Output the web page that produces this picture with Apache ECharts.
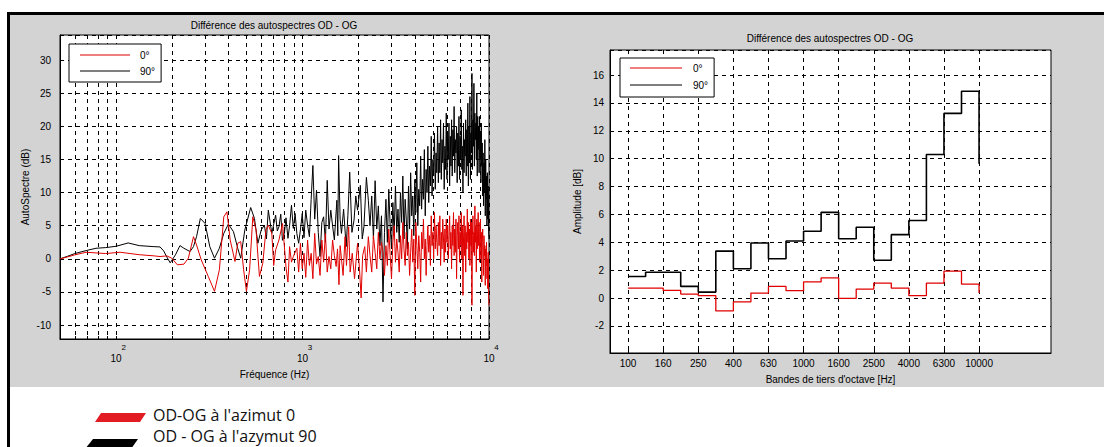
<!DOCTYPE html>
<html><head><meta charset="utf-8">
<script src="https://cdn.jsdelivr.net/npm/echarts@6/dist/echarts.min.js"></script>
<style>html,body{margin:0;padding:0;background:#fff;}#c{width:1104px;height:447px;}</style>
</head><body><div id="c"></div>
<script>
// ---------- Left chart: narrow-band difference spectrum (Hz, dB) ----------
const diff90Low = [[50,0],[55,0.4],[60,0.8],[69,1.25],[78,1.6],[88,1.7],[100,1.9],[116,2.4],[133,2.0],[158,1.85],[172,1.8],[180,1.2],[186,0.4],[195,-0.6],[208,0.6],[220,2.0],[231,1.6],[249,1.1],[260,1.85],[270,3.35],[283,6.1],[300,5.35],[318,1.85],[337,0.1],[358,1.6],[378,3.85],[400,5.25],[426,4.1],[449,1.6],[466,0.1],[490,4.35],[527,7.75],[552,6.1],[576,2.35],[600,4.35],[624,5.1],[640,3.0],[655,7.35],[684,3.85],[717,6.6],[732,4.2],[747,4.85],[764,6.75],[780,2.8],[799,3.85],[815,6.2],[835,3.1],[852,5.0],[872,8.1],[892,4.6],[912,6.85],[932,3.8],[953,2.35],[975,4.5],[996,6.85],[1018,3.2],[1040,7.35],[1064,5.1],[1088,3.35],[1112,9.0],[1136,14.1],[1162,6.0],[1188,10.35],[1214,4.0],[1241,0.35],[1269,5.5],[1297,6.35],[1326,2.5],[1356,11.85],[1386,4.5],[1417,7.35],[1449,5.0],[1481,2.85],[1505,6.0],[1528,8.85],[1545,3.5],[1561,15.6],[1590,6.0],[1617,3.85],[1660,7.5],[1713,1.85],[1750,6.5],[1790,13.1],[1840,4.0],[1888,5.85],[1930,9.5],[1972,7.35],[2042,11.1],[2090,3.0],[2134,4.85],[2200,12.3],[2253,8.85]];
const diff0Low = [[50,0],[55,0.3],[60,0.6],[69,1.0],[88,0.8],[105,1.0],[133,0.63],[160,0.45],[172,0.35],[187,0.45],[199,0.1],[213,-0.9],[231,-0.8],[244,0.1],[260,3.35],[270,2.1],[286,-0.15],[312,-2.65],[337,-4.9],[358,-1.65],[378,6.35],[393,7.1],[409,2.85],[434,-0.4],[449,2.35],[466,2.6],[483,-1.65],[500,-4.9],[520,-1.65],[541,6.35],[563,4.35],[587,-2.65],[612,-0.65],[636,4.35],[655,5.1],[684,3.85],[700,-1.0],[717,1.35],[747,2.85],[781,5.35],[816,-1.4],[835,-3.5],[852,1.85],[872,-0.5],[892,0.35],[932,1.6],[953,-2.0],[974,2.35],[996,-1.5],[1018,0.85],[1040,-2.8],[1064,2.85],[1088,-1.0],[1112,0.85],[1136,-3.0],[1162,3.85],[1188,-0.8],[1214,0.35],[1241,-2.5],[1269,2.85],[1297,-0.5],[1326,3.85],[1356,-2.0],[1386,0.35],[1417,-1.5],[1449,2.85],[1481,0.5],[1514,-1.15],[1540,1.5],[1568,-3.9],[1590,2.0],[1617,0.0],[1650,-2.5],[1690,3.35],[1720,-1.0],[1767,4.85],[1800,-2.0],[1847,0.85],[1900,-3.0],[1972,2.35],[2020,-1.5],[2061,-5.9],[2100,0.5],[2155,1.85],[2200,-2.0],[2253,3.35]];

const freqDense = [2300,2350,2400,2450,2500,2550,2600,2650,2700,2750,
 2800,2850,2900,2950,3000,3050,3100,3150,3200,3250,
 3300,3350,3400,3450,3500,3550,3600,3650,3700,3750,
 3800,3850,3900,3950,4000,4050,4100,4150,4200,4250,
 4300,4350,4400,4450,4500,4550,4600,4650,4700,4750,
 4800,4850,4900,4950,5000,5050,5100,5150,5200,5250,
 5300,5350,5400,5450,5500,5550,5600,5650,5700,5750,
 5800,5850,5900,5950,6000,6050,6100,6150,6200,6250,
 6300,6350,6400,6450,6500,6550,6600,6650,6700,6750,
 6800,6850,6900,6950,7000,7050,7100,7150,7200,7250,
 7300,7350,7400,7450,7500,7550,7600,7650,7700,7750,
 7800,7850,7900,7950,8000,8050,8100,8150,8200,8250,
 8300,8350,8400,8450,8500,8550,8600,8650,8700,8750,
 8800,8850,8900,8950,9000,9050,9100,9150,9200,9250,
 9300,9350,9400,9450,9500,9550,9600,9650,9700,9750,
 9800,9850,9900,9950,10000];
const diff90Dense = [5,9.5,3,11.8,4.5,8,2,6.5,-6.5,4,
 9,2.5,10.5,5,1.5,8.5,3.5,11,4,7.5,
 2.5,10,5.5,12.5,3,9,6,1.5,11,4.5,
 13,6.5,9.5,3.5,12,7,14.5,5,10.5,8,
 15.5,7.5,12,9,16.5,6.5,13.5,10,17,8.5,
 14,11,18.5,9.5,15,12.5,19,10.5,16,13,
 20,11.5,17.5,13,21,12,18,14.5,20.5,10.5,
 17,13.5,22,12,19,15,20.5,11,18.5,14,
 21,12.5,19.5,15.5,23,13,18,16,20,11.5,
 19,14,21.5,12,18.5,15,22.5,13.5,17,10,
 20.5,13,18,15.5,21,12.5,19.5,14,23.5,11,
 20,14.5,24.5,12,19,16,28,13.5,21,17,
 26.5,14,22,18,20.5,15,25,12.5,21.5,16.5,
 20,13,21.5,15,19,11.5,20.5,14,17.5,9.5,
 16,8,14.5,10,18,6.5,15,9,12.5,5,
 13,6,11,4.5,3];
const diff0Dense = [0.5,-2,3.5,1,-1.5,4,0,2.5,1,-2.5,
 2,-1,4.5,0.5,-3,2.5,5,-0.5,3,1,
 -2,3.5,0,5.5,1.5,-1,4,0.5,2.5,-2.5,
 1,4.5,-0.5,3,-5.5,5.5,2,-1.5,3.5,1,
 -3.5,4,1.5,6,0,3,-2.5,2,5,1,
 3.5,-1,6.5,2,4,0,7,1.5,5,2.5,
 0.5,5.5,2,6.5,-1,4,1.5,6,3,-0.5,
 4.5,1,6,2.5,5,0,3.5,6.5,1.5,4,
 -1.5,5,2,7,0.5,4.5,1,6,-3,3.5,
 5.5,1.5,6.5,-0.5,4,2,7,0,5,-5.5,
 3,6.5,0.5,5,-2,4,1.5,7.5,2.5,5.5,
 0,4.5,-1,6,2,5.5,-7,3.5,6.5,1,
 4,0.5,8,2.5,5,-2,6,1.5,4.5,7,
 2,5.5,-0.5,3.5,6,0,4,-3.5,2.5,4.5,
 1,-2.5,3.5,0.5,2,-4,1.5,-1,2.5,-3,
 0,-4.5,1,-5.5,-7];
const logGridFreqs = [60,70,80,90,100,200,300,400,500,600,700,800,900,1000,2000,3000,4000,5000,6000,7000,8000,9000,10000];
const logTickVals = [100,1000,10000];
const logTickExp = ['2','3','4'];

// ---------- Right chart: third-octave bands ----------
const bands = ['100','125','160','200','250','315','400','500','630','800','1000','1250','1600','2000','2500','3150','4000','5000','6300','8000','10000'];
const band90 = [1.55,1.85,1.85,0.84,0.43,3.37,2.1,3.95,2.82,4.1,4.8,6.15,4.26,5.08,2.72,4.55,5.57,10.3,13.25,14.84,9.64];
const band0 = [0.72,0.72,0.55,0.29,0.17,-0.92,-0.27,0.36,0.84,0.53,1.16,1.45,-0.02,0.65,1.08,0.72,0.17,1.08,1.93,1.0,0.36];
const bandTickIdx = [0,2,4,6,8,10,12,14,16,18,20];

const title = 'Différence des autospectres OD - OG';
const legendNames = ['0°','90°'];

const F = 'Liberation Sans';
const RED = '#e00000';
const dash = [4,4];

const d90 = diff90Low.concat(freqDense.map((f,i)=>[f, diff90Dense[i]]));
const d0 = diff0Low.concat(freqDense.map((f,i)=>[f, diff0Dense[i]]));

const chart = echarts.init(document.getElementById('c'), null, {renderer:'svg'});
const axisText = {color:'#000', fontSize:10, fontFamily:F};
const option = {
  animation:false,
  backgroundColor:'#fff',
  textStyle:{fontFamily:F},
  graphic:[
    {type:'rect', z:-10, shape:{x:9,y:14,width:1095,height:373}, style:{fill:'#d3d3d3'}},
    {type:'rect', z:-9, shape:{x:7,y:12,width:1097,height:3}, style:{fill:'#000'}},
    {type:'rect', z:-9, shape:{x:7,y:12,width:3,height:435}, style:{fill:'#000'}},
    {type:'text', x:274, y:25, style:{text:title, font:'10px "Liberation Sans"', fill:'#000', align:'center', verticalAlign:'middle', textAlign:'center', textVerticalAlign:'middle'}},
    {type:'text', x:830, y:38, style:{text:title, font:'10px "Liberation Sans"', fill:'#000', align:'center', verticalAlign:'middle', textAlign:'center', textVerticalAlign:'middle'}},
    {type:'polygon', shape:{points:[[101,413],[146,413],[140,422],[95,422]]}, style:{fill:'#e31b23'}},
    {type:'text', x:153, y:415, style:{text:"OD-OG à l'azimut 0", font:'16px "Open Sans"', fill:'#111', align:'left', verticalAlign:'middle', textAlign:'left', textVerticalAlign:'middle'}},
    {type:'polygon', shape:{points:[[93,439],[138,439],[131,449],[85,449]]}, style:{fill:'#000'}},
    {type:'text', x:153, y:436, style:{text:"OD - OG à l'azymut 90", font:'16px "Open Sans"', fill:'#111', align:'left', verticalAlign:'middle', textAlign:'left', textVerticalAlign:'middle'}}
  ],
  legend:[
    {data:legendNames, orient:'vertical', left:69, top:44, padding:[5,6,5,11], itemGap:4, itemWidth:50, itemHeight:1, icon:'rect',
     backgroundColor:'#fff', borderColor:'#000', borderWidth:1, borderRadius:0, selectedMode:false,
     textStyle:{fontSize:10, color:'#000', fontFamily:F, lineHeight:12, padding:[0,0,0,5]}},
    {data:legendNames, orient:'vertical', left:620, top:58, padding:[4,6,6,10], itemGap:5, itemWidth:52, itemHeight:1, icon:'rect',
     backgroundColor:'#fff', borderColor:'#000', borderWidth:1, borderRadius:0, selectedMode:false,
     textStyle:{fontSize:10, color:'#000', fontFamily:F, lineHeight:12, padding:[0,0,0,6]}}
  ],
  grid:[
    {left:60, right:615, top:35, bottom:108, show:true, backgroundColor:'#fff', borderColor:'#000', borderWidth:1},
    {left:610, right:53, top:50, bottom:94, show:true, backgroundColor:'#fff', borderColor:'#000', borderWidth:1}
  ],
  xAxis:[
    {type:'log', gridIndex:0, logBase:10, min:50, max:10000,
     name:'Fréquence (Hz)', nameLocation:'middle', nameGap:30, nameTextStyle:axisText,
     axisLine:{show:true, onZero:false, lineStyle:{color:'#000', width:1}},
     axisTick:{show:true, inside:true, length:3, customValues:logGridFreqs, lineStyle:{color:'#000'}},
     axisLabel:{customValues:logTickVals, margin:4, color:'#000',
       formatter:function(v){
         let k = 0; for (let i=0;i<logTickVals.length;i++){ if (Math.abs(v-logTickVals[i]) < 1e-6*logTickVals[i]) k=i; }
         return '{e|'+logTickExp[k]+'}\n{b|10}';
       },
       rich:{e:{fontSize:8, lineHeight:9, align:'center', padding:[0,0,0,15], fontFamily:F, color:'#000'},
             b:{fontSize:10, lineHeight:12, align:'center', fontFamily:F, color:'#000'}}},
     splitLine:{show:true, lineStyle:{color:'#000', type:dash, width:1}}},
    {type:'value', gridIndex:1, min:-1.03, max:24.1,
     name:"Bandes de tiers d'octave [Hz]", nameLocation:'middle', nameGap:21, nameTextStyle:axisText,
     axisLine:{show:true, onZero:false, lineStyle:{color:'#000', width:1}},
     axisTick:{show:true, inside:true, length:3, customValues:bandTickIdx, lineStyle:{color:'#000'}},
     axisLabel:{customValues:bandTickIdx, margin:5, fontSize:10, color:'#000', fontFamily:F,
       formatter:function(v){ return bands[Math.round(v)]; }},
     splitLine:{show:true, lineStyle:{color:'#000', type:dash, width:1}}}
  ],
  yAxis:[
    {type:'value', gridIndex:0, min:-12.1, max:33.8, splitNumber:9,
     name:'AutoSpectre (dB)', nameLocation:'middle', nameGap:30, nameTextStyle:axisText,
     axisLine:{show:true, onZero:false, lineStyle:{color:'#000', width:1}},
     axisTick:{show:true, inside:true, length:3, lineStyle:{color:'#000'}},
     axisLabel:{margin:9, fontSize:10, color:'#000', fontFamily:F, showMinLabel:false, showMaxLabel:false},
     splitLine:{show:true, lineStyle:{color:'#000', type:dash, width:1}}},
    {type:'value', gridIndex:1, min:-3.94, max:17.8, splitNumber:11,
     name:'Amplitude [dB]', nameLocation:'middle', nameGap:28, nameTextStyle:axisText,
     axisLine:{show:true, onZero:false, lineStyle:{color:'#000', width:1}},
     axisTick:{show:true, inside:true, length:3, lineStyle:{color:'#000'}},
     axisLabel:{margin:6, fontSize:10, color:'#000', fontFamily:F, showMinLabel:false, showMaxLabel:false},
     splitLine:{show:true, lineStyle:{color:'#000', type:dash, width:1}}}
  ],
  series:[
    {name:'90°', type:'line', xAxisIndex:0, yAxisIndex:0, data:d90, symbol:'none', showSymbol:false,
     lineStyle:{color:'#000', width:1}, itemStyle:{color:'#000'}, z:2},
    {name:'0°', type:'line', xAxisIndex:0, yAxisIndex:0, data:d0, symbol:'none', showSymbol:false,
     lineStyle:{color:RED, width:1}, itemStyle:{color:RED}, z:3},
    {name:'90°', type:'line', xAxisIndex:1, yAxisIndex:1, step:'end', data:band90.map((v,i)=>[i,v]), symbol:'none', showSymbol:false,
     lineStyle:{color:'#000', width:1.6}, itemStyle:{color:'#000'}, z:2},
    {name:'0°', type:'line', xAxisIndex:1, yAxisIndex:1, step:'end', data:band0.map((v,i)=>[i,v]), symbol:'none', showSymbol:false,
     lineStyle:{color:RED, width:1.3}, itemStyle:{color:RED}, z:3}
  ]
};
chart.setOption(option);
</script></body></html>
